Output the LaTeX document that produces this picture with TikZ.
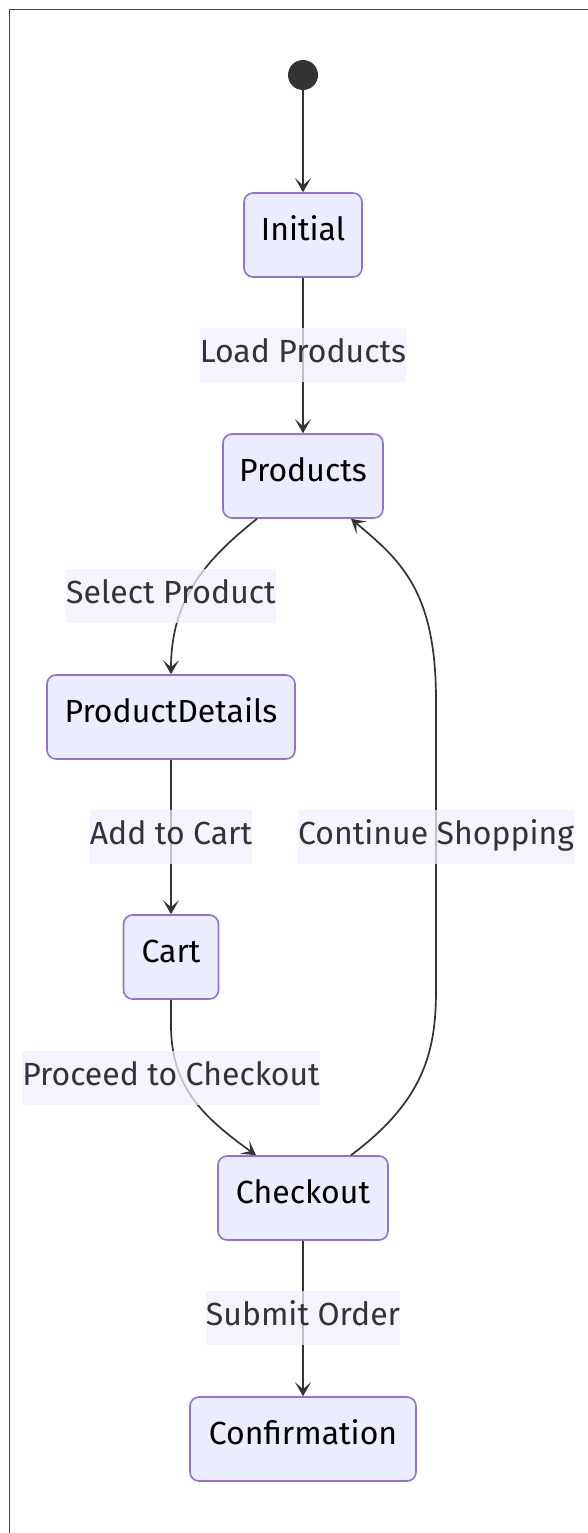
\documentclass[tikz,border=0pt]{standalone}
\usepackage{fontspec}
\setmainfont{Fira Sans}
\usetikzlibrary{arrows.meta}
\definecolor{nodefill}{HTML}{ECECFF}
\definecolor{nodeline}{HTML}{9370DB}
\definecolor{edgecol}{HTML}{333333}
\definecolor{lblfill}{HTML}{F0F0FF}
\definecolor{framecol}{HTML}{444444}
\tikzset{
  state/.style={draw=nodeline, fill=nodefill, line width=1.6pt, rounded corners=9pt,
    minimum height=84pt, inner xsep=0pt, text=black,
    text height=24pt, text depth=14pt,
    font=\fontsize{32}{36}\selectfont},
  edgelbl/.style={fill=lblfill, fill opacity=0.75, text opacity=1, text=edgecol,
    inner sep=0pt, minimum height=54pt, text height=26pt, text depth=12pt,
    font=\fontsize{32}{36}\selectfont},
  trans/.style={draw=edgecol, line width=1.7pt,
    -{Stealth[length=14pt, width=16pt, inset=7pt]}},
}
\begin{document}
\begin{tikzpicture}[x=1pt, y=-1pt]
  \useasboundingbox (0,0) rectangle (588,1533);
  % frame edges
  \draw[framecol, line width=1.8pt] (9.5,1533) -- (9.5,9.5) -- (588,9.5);

  % start marker
  \node[circle, fill=edgecol, minimum size=30pt, inner sep=0pt] (start) at (303,75) {};

  % states
  \node[state, minimum width=118pt] (initial) at (303,235) {Initial};
  \node[state, minimum width=160pt] (products) at (303,476) {Products};
  \node[state, minimum width=248pt] (details) at (171,717) {ProductDetails};
  \node[state, minimum width=95pt] (cart) at (171,957) {Cart};
  \node[state, minimum width=170pt] (checkout) at (303,1198) {Checkout};
  \node[state, minimum width=226pt] (confirm) at (303,1439) {Confirmation};

  % anchor points on the box edges for the curved transitions
  \coordinate (pdOut) at ([xshift=-46pt]products.south);
  \coordinate (pdIn) at ([xshift=48pt]products.south);
  \coordinate (coOut) at ([xshift=48pt]checkout.north);
  \coordinate (coIn) at ([xshift=-47pt]checkout.north);

  % transitions
  \draw[trans] (start) -- (initial);
  \draw[trans] (initial) -- (products);
  \draw[trans] (pdOut) .. controls (205,560) and (171,600) .. (details.north);
  \draw[trans] (details) -- (cart);
  \draw[trans] (cart.south) -- ++(0,25) .. controls (171,1085) and (200,1115) .. (coIn);
  \draw[trans] (coOut) .. controls (425,1100) and (436,1050) .. (436,990)
    -- (436,700) .. controls (436,590) and (400,560) .. (pdIn);
  \draw[trans] (checkout) -- (confirm);

  % transition labels
  \node[edgelbl] (lLoad) at (303,355) {Load Products};
  \node[edgelbl] (lSelect) at (171,596) {Select Product};
  \node[edgelbl] (lAdd) at (171,837) {Add to Cart};
  \node[edgelbl] (lCont) at (436,837) {Continue Shopping};
  \node[edgelbl] (lProceed) at (171,1078) {Proceed to Checkout};
  \node[edgelbl] (lSubmit) at (303,1318) {Submit Order};
\end{tikzpicture}
\end{document}
